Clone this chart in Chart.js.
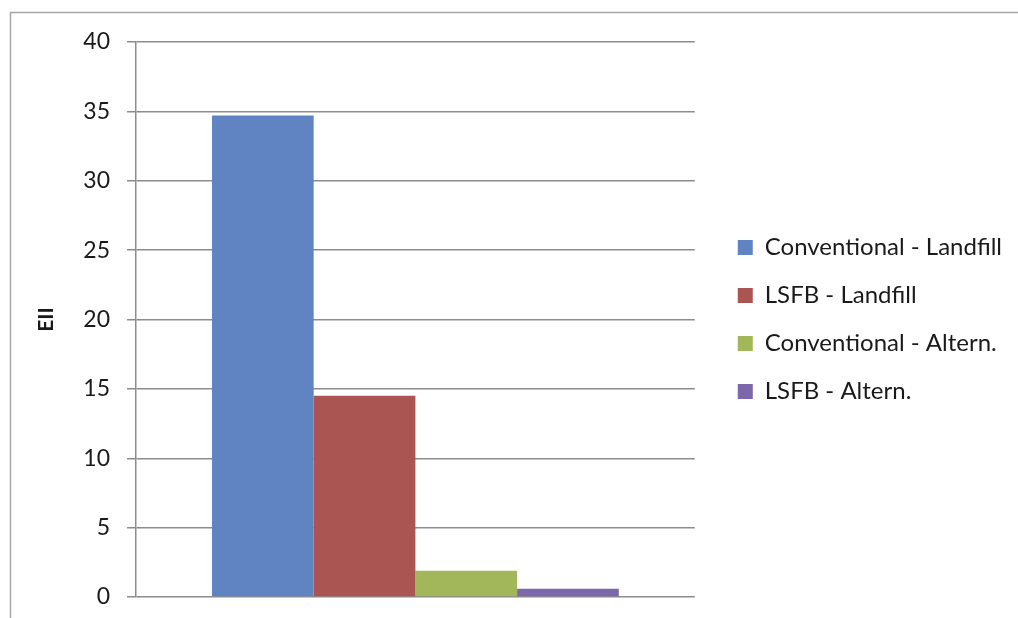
<!DOCTYPE html>
<html>
<head>
<meta charset="utf-8">
<script src="https://cdn.jsdelivr.net/npm/chart.js@4.4.0/dist/chart.umd.min.js"></script>
<style>
  html, body { margin: 0; padding: 0; background: #fff; }
  #grafico { display: block; }
</style>
</head>
<body>
<canvas id="grafico" width="1018" height="618"></canvas>
<script>
const categorias = ['']
const series = [
    'Conventional - Landfill',
    'LSFB - Landfill',
    'Conventional - Altern.',
    'LSFB - Altern.'
]
const valores = [34.7, 14.5, 1.9, 0.6]
const cores = ['#6083C2', '#AB5553', '#A1B75A', '#7B67A9']
const ticksY = [0, 5, 10, 15, 20, 25, 30, 35, 40]

const fonte = 'Lato, "Open Sans", sans-serif'

// moldura cinza em volta do grafico
const moldura = {
    id: 'moldura',
    beforeDraw(chart) {
        const ctx = chart.ctx
        ctx.save()
        ctx.fillStyle = '#fff'
        ctx.fillRect(0, 0, chart.width, chart.height)
        ctx.strokeStyle = '#a6a6a6'
        ctx.lineWidth = 1.5
        ctx.strokeRect(10.5, 12.5, 2000, 2000)
        ctx.restore()
    }
}

function criarGrafico() {
    const dados = {
        labels: categorias,
        datasets: series.map((nome, i) => ({
            label: nome,
            data: [valores[i]],
            backgroundColor: cores[i],
            borderWidth: 0,
            categoryPercentage: 0.728,
            barPercentage: 1.0
        }))
    }

    new Chart(document.getElementById('grafico'), {
        type: 'bar',
        data: dados,
        plugins: [moldura],
        options: {
            responsive: false,
            animation: false,
            layout: { padding: { left: 10, top: 42, bottom: 21, right: 6 } },
            plugins: {
                tooltip: { enabled: false },
                legend: {
                    position: 'right',
                    maxWidth: 400,
                    labels: {
                        font: { family: fonte, size: 24 },
                        color: '#1a1a1a',
                        boxWidth: 15,
                        boxHeight: 15,
                        padding: 24
                    }
                }
            },
            scales: {
                x: { display: false },
                y: {
                    min: 0,
                    max: 40,
                    afterBuildTicks: s => { s.ticks = ticksY.map(v => ({ value: v })) },
                    afterFit: s => {
                        s.width = 126
                        s.paddingTop = 0
                        s.paddingBottom = 0
                    },
                    grid: { color: '#8c8c8c', lineWidth: 1.5, tickLength: 9, tickColor: '#8c8c8c' },
                    border: { color: '#8c8c8c', width: 1.5 },
                    ticks: {
                        font: { family: fonte, size: 23 },
                        color: '#1a1a1a',
                        padding: 17
                    },
                    title: {
                        display: true,
                        text: 'EII',
                        font: { family: fonte, size: 21, weight: 'bold' },
                        color: '#1a1a1a',
                        padding: { top: 24, bottom: 0 }
                    }
                },
                // eixo vazio so para afastar a legenda da area do grafico
                y2: {
                    position: 'right',
                    display: true,
                    grid: { display: false },
                    ticks: { display: false },
                    border: { display: false },
                    afterFit: s => {
                        s.width = 19
                        s.paddingTop = 0
                        s.paddingBottom = 0
                    }
                }
            }
        }
    })
}

Promise.all([
    document.fonts.load('24px Lato'),
    document.fonts.load('23px Lato'),
    document.fonts.load('bold 21px Lato')
]).then(criarGrafico, criarGrafico)
</script>
</body>
</html>
